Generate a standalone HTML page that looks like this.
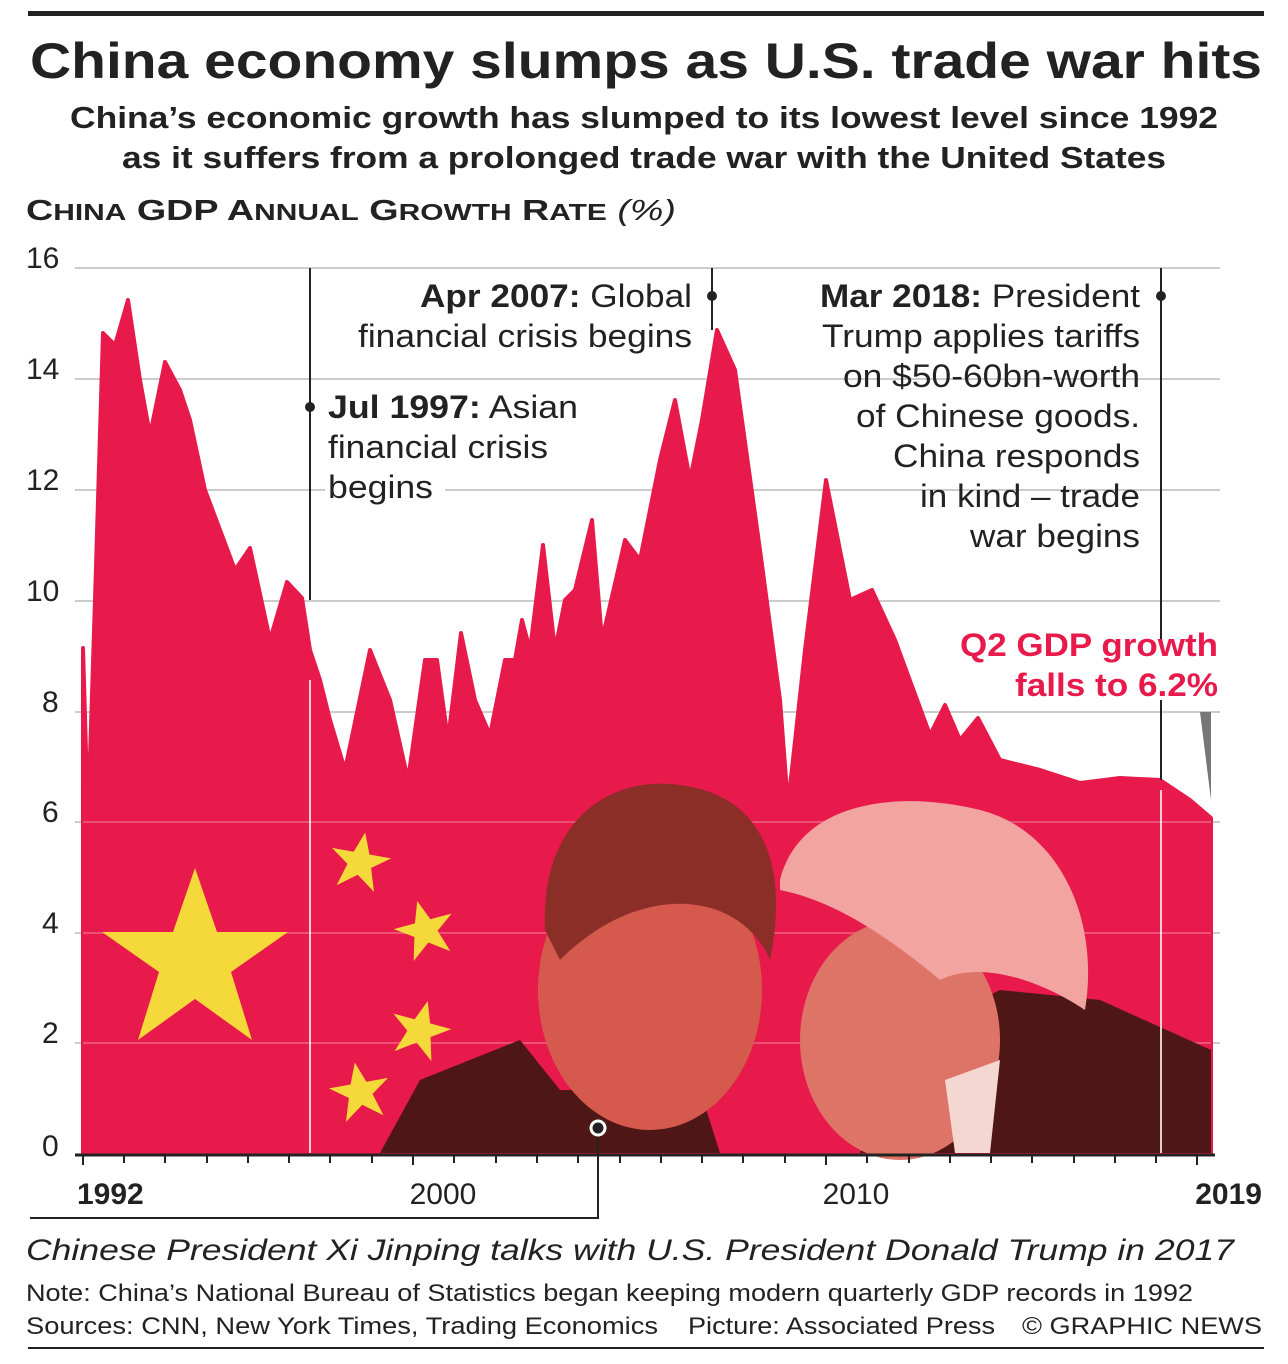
<!DOCTYPE html>
<html><head><meta charset="utf-8"><style>
body{margin:0;background:#fff;width:1288px;height:1359px;overflow:hidden;font-family:"Liberation Sans",Arial,sans-serif}
</style></head><body>
<svg width="1288" height="1359" viewBox="0 0 1288 1359" xmlns="http://www.w3.org/2000/svg" font-family="Liberation Sans, Arial, sans-serif">
<rect x="28" y="11" width="1236" height="5" fill="#222"/>
<text x="30" y="78" font-size="50" font-weight="bold" fill="#222" textLength="1232" lengthAdjust="spacingAndGlyphs">China economy slumps as U.S. trade war hits</text>
<text x="70" y="128" font-size="31" font-weight="bold" fill="#222" textLength="1148" lengthAdjust="spacingAndGlyphs">China’s economic growth has slumped to its lowest level since 1992</text>
<text x="122" y="168" font-size="31" font-weight="bold" fill="#222" textLength="1044" lengthAdjust="spacingAndGlyphs">as it suffers from a prolonged trade war with the United States</text>
<text x="26" y="220" font-size="29" font-weight="bold" fill="#222" textLength="650" lengthAdjust="spacingAndGlyphs">C<tspan font-size="23">HINA</tspan> GDP A<tspan font-size="23">NNUAL</tspan> G<tspan font-size="23">ROWTH</tspan> R<tspan font-size="23">ATE</tspan> <tspan font-weight="normal" font-style="italic">(%)</tspan></text>
<g stroke="#ccc" stroke-width="2">
<line x1="75" y1="268" x2="1220" y2="268"/><line x1="75" y1="379" x2="1220" y2="379"/><line x1="75" y1="490" x2="1220" y2="490"/><line x1="75" y1="601" x2="1220" y2="601"/><line x1="75" y1="712" x2="1220" y2="712"/><line x1="75" y1="822" x2="1220" y2="822"/><line x1="75" y1="933" x2="1220" y2="933"/><line x1="75" y1="1043" x2="1220" y2="1043"/>
</g>
<g font-size="30" fill="#222">
<text x="26" y="268">16</text><text x="26" y="379">14</text><text x="26" y="490">12</text><text x="26" y="601">10</text><text x="42" y="712">8</text><text x="42" y="822">6</text><text x="42" y="933">4</text><text x="42" y="1043">2</text><text x="42" y="1156">0</text>
</g>
<path fill="#e8194b" d="M83,1153 L83,648 L88,820 L95,600 L103,333 L115,345 L128,300 L140,380 L150,435 L165,362 L180,390 L190,420 L205,490 L220,530 L235,570 L250,548 L270,640 L287,582 L302,598 L310,650 L320,680 L330,720 L345,770 L370,650 L390,700 L408,780 L425,660 L437,660 L448,740 L461,633 L475,700 L490,735 L505,660 L515,660 L522,620 L530,650 L543,545 L555,650 L565,600 L575,590 L592,520 L602,640 L625,540 L640,560 L660,460 L675,400 L690,480 L702,420 L717,330 L735,370 L760,550 L780,700 L788,805 L805,650 L826,480 L850,600 L872,590 L895,640 L930,735 L945,705 L960,740 L978,718 L1000,760 L1020,765 L1040,770 L1080,783 L1120,778 L1160,780 L1190,800 L1211,818 L1211,1153 Z" stroke="#e8194b" stroke-width="4" stroke-linejoin="round"/>
<g stroke="#f06888" stroke-width="2" opacity="0.7">
<line x1="83" y1="822" x2="1211" y2="822"/><line x1="83" y1="933" x2="1211" y2="933"/><line x1="83" y1="1043" x2="1211" y2="1043"/>
</g>
<polygon points="1200,712 1211,712 1211,800" fill="#777"/>
<g fill="#f5d83a">
<polygon points="195,868 217,932 288,932 231,972 252,1040 195,999 138,1040 159,972 102,932 173,932"/>
<polygon points="360,832 368,853 390,853 372,866 379,889 360,875 341,889 348,866 330,853 352,853" transform="rotate(10 360 862)"/>
<polygon points="425,900 433,921 455,921 437,934 444,957 425,943 406,957 413,934 395,921 417,921" transform="rotate(-15 425 930)"/>
<polygon points="420,1000 428,1021 450,1021 432,1034 439,1057 420,1043 401,1057 408,1034 390,1021 412,1021" transform="rotate(15 420 1030)"/>
<polygon points="360,1062 368,1083 390,1083 372,1096 379,1119 360,1105 341,1119 348,1096 330,1083 352,1083" transform="rotate(-10 360 1092)"/>
</g>
<path d="M380,1153 L420,1080 L520,1040 L560,1090 L700,1090 L720,1153 Z" fill="#4e1614"/>
<ellipse cx="650" cy="990" rx="112" ry="140" fill="#d55a4d"/>
<path d="M545,930 C540,820 610,775 680,785 C760,795 790,860 770,960 C740,890 640,880 560,960 Z" fill="#8a2e27"/>
<path d="M860,1153 L900,1040 L1000,990 L1100,1000 L1211,1050 L1211,1153 Z" fill="#4e1614"/>
<ellipse cx="900" cy="1040" rx="100" ry="120" fill="#de7468"/>
<path d="M780,880 C800,800 900,790 980,810 C1060,830 1100,920 1085,1010 C1040,980 980,960 940,980 C880,930 830,900 780,890 Z" fill="#f2a4a0"/>
<path d="M945,1080 L1000,1060 L990,1153 L955,1153 Z" fill="#f3d7d0"/>
<g stroke="#222" stroke-width="2">
<line x1="310" y1="268" x2="310" y2="600"/><line x1="712" y1="268" x2="712" y2="330"/><line x1="1161" y1="268" x2="1161" y2="640"/><line x1="1161" y1="700" x2="1161" y2="780"/>
</g>
<g stroke="#fff" stroke-width="2" opacity="0.8"><line x1="310" y1="680" x2="310" y2="1153"/><line x1="1161" y1="790" x2="1161" y2="1153"/></g>
<circle cx="310" cy="407" r="5" fill="#222"/><circle cx="712" cy="296" r="5" fill="#222"/><circle cx="1161" cy="296" r="5" fill="#222"/>
<rect x="325" y="385" width="120" height="120" fill="#fff"/>
<rect x="445" y="385" width="140" height="95" fill="#fff"/>
<g font-size="32" fill="#222" lengthAdjust="spacingAndGlyphs">
<text x="328" y="418" textLength="250" lengthAdjust="spacingAndGlyphs"><tspan font-weight="bold">Jul 1997:</tspan> Asian</text>
<text x="328" y="458" textLength="220" lengthAdjust="spacingAndGlyphs">financial crisis</text><text x="328" y="498" textLength="105" lengthAdjust="spacingAndGlyphs">begins</text>
<text x="420" y="307" textLength="272" lengthAdjust="spacingAndGlyphs"><tspan font-weight="bold">Apr 2007:</tspan> Global</text>
<text x="358" y="347" textLength="334" lengthAdjust="spacingAndGlyphs">financial crisis begins</text>
<text x="820" y="307" textLength="320" lengthAdjust="spacingAndGlyphs"><tspan font-weight="bold">Mar 2018:</tspan> President</text>
<text x="822" y="347" textLength="318" lengthAdjust="spacingAndGlyphs">Trump applies tariffs</text>
<text x="843" y="387" textLength="297" lengthAdjust="spacingAndGlyphs">on $50-60bn-worth</text>
<text x="856" y="427" textLength="284" lengthAdjust="spacingAndGlyphs">of Chinese goods.</text>
<text x="893" y="467" textLength="247" lengthAdjust="spacingAndGlyphs">China responds</text>
<text x="920" y="507" textLength="220" lengthAdjust="spacingAndGlyphs">in kind – trade</text>
<text x="970" y="547" textLength="170" lengthAdjust="spacingAndGlyphs">war begins</text>
</g>
<g font-size="32" font-weight="bold" fill="#e8194b">
<text x="960" y="656" textLength="258" lengthAdjust="spacingAndGlyphs">Q2 GDP growth</text>
<text x="1015" y="696" textLength="203" lengthAdjust="spacingAndGlyphs">falls to 6.2%</text>
</g>
<line x1="75" y1="1155" x2="1215" y2="1155" stroke="#222" stroke-width="3"/>
<g stroke="#222" stroke-width="2">
<path d="M83,1155v10M124,1155v8M165,1155v8M207,1155v8M248,1155v8M289,1155v8M330,1155v8M372,1155v8M413,1155v10M454,1155v8M496,1155v8M537,1155v8M578,1155v8M620,1155v8M661,1155v8M702,1155v8M743,1155v8M785,1155v8M826,1155v10M867,1155v8M909,1155v8M950,1155v8M991,1155v8M1032,1155v8M1074,1155v8M1115,1155v8M1156,1155v8M1197,1155v10"/>
</g>
<g font-size="30" fill="#222">
<text x="77" y="1204" font-weight="bold">1992</text>
<text x="443" y="1204" text-anchor="middle">2000</text>
<text x="856" y="1204" text-anchor="middle">2010</text>
<text x="1262" y="1204" text-anchor="end" font-weight="bold">2019</text>
</g>
<path d="M30,1218 H598 V1135" stroke="#222" stroke-width="2" fill="none"/>
<circle cx="598" cy="1128" r="7" fill="#222" stroke="#fff" stroke-width="3"/>
<text x="26" y="1260" font-size="30" font-style="italic" fill="#222" textLength="1208" lengthAdjust="spacingAndGlyphs">Chinese President Xi Jinping talks with U.S. President Donald Trump in 2017</text>
<text x="26" y="1301" font-size="24" fill="#222" textLength="1167" lengthAdjust="spacingAndGlyphs">Note: China’s National Bureau of Statistics began keeping modern quarterly GDP records in 1992</text>
<text x="26" y="1334" font-size="24" fill="#222" textLength="632" lengthAdjust="spacingAndGlyphs">Sources: CNN, New York Times, Trading Economics</text>
<text x="688" y="1334" font-size="24" fill="#222" textLength="307" lengthAdjust="spacingAndGlyphs">Picture: Associated Press</text>
<text x="1022" y="1334" font-size="24" fill="#222" textLength="240" lengthAdjust="spacingAndGlyphs">© GRAPHIC NEWS</text>
<rect x="28" y="1347" width="1236" height="2" fill="#222"/>
</svg>
</body></html>
